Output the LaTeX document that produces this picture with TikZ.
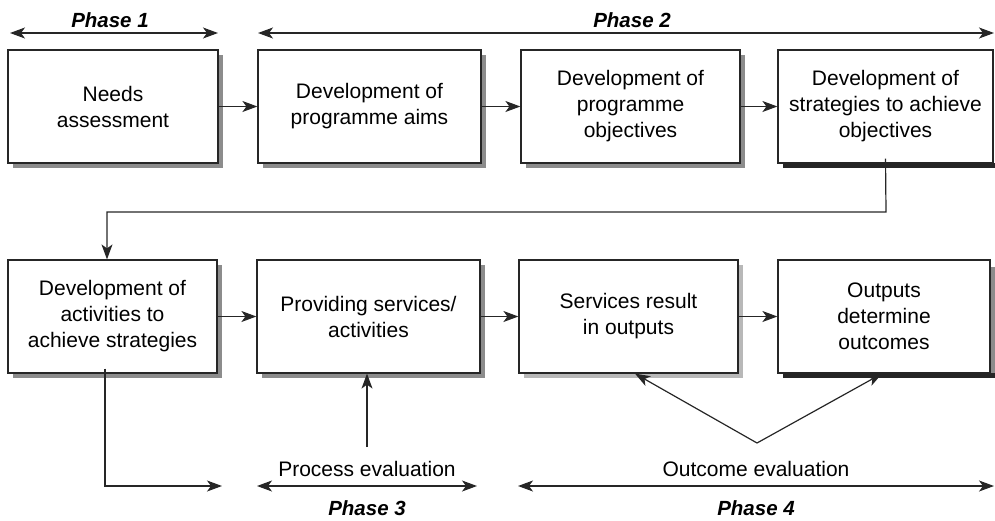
\documentclass[tikz,border=0pt]{standalone}
\usepackage{fontspec}
\setmainfont{Liberation Sans}
\usetikzlibrary{arrows.meta}
\begin{document}
\begin{tikzpicture}[x=1pt,y=-1pt,
  every node/.style={font=\fontsize{21pt}{26pt}\selectfont},
  stagebox/.style={draw=black!85, line width=1.2pt, fill=white, align=center, inner sep=0pt, minimum height=113pt},
  arr/.style={line width=1.2pt, draw=black!85, -{Stealth[length=15pt,width=11pt,inset=4pt]}},
  darr/.style={line width=1.2pt, draw=black!85, {Stealth[length=15pt,width=11pt,inset=4pt]}-{Stealth[length=15pt,width=11pt,inset=4pt]}},
  phase/.style={font=\fontsize{20.5pt}{24pt}\selectfont\bfseries\itshape, anchor=base, inner sep=0pt},
  evl/.style={anchor=base, inner sep=0pt},
  shd/.style={fill=black!45},
  lshd/.style={fill=black!28},
  dshd/.style={fill=black!85}
]
\useasboundingbox (0,0) rectangle (995,520);
% shadows
\fill[shd] (218,55) rectangle (223,168);
\fill[shd] (13,163) rectangle (223,168);
\fill[shd] (481,55) rectangle (486,168);
\fill[shd] (263,163) rectangle (486,168);
\fill[shd] (740,55) rectangle (745,168);
\fill[shd] (526,163) rectangle (745,168);
\fill[dshd] (783,163) rectangle (995,168);
\fill[shd] (217,265) rectangle (222,378);
\fill[shd] (13,373) rectangle (222,378);
\fill[shd] (480,265) rectangle (485,378);
\fill[shd] (262,373) rectangle (485,378);
\fill[lshd] (738,265) rectangle (743,378);
\fill[lshd] (524,373) rectangle (743,378);
\fill[shd] (990,267) rectangle (995,378);
\fill[dshd] (783,373) rectangle (995,378);
% boxes
\node[stagebox, minimum width=210pt] (b1) at (113,106.5) {Needs\\assessment};
\node[stagebox, minimum width=223pt] (b2) at (369.5,106.5) {Development of\\programme aims};
\node[stagebox, minimum width=219pt] (b3) at (630.5,106.5) {Development of\\programme\\objectives};
\node[stagebox, minimum width=215pt] (b4) at (885.5,106.5) {Development of\\strategies to achieve\\objectives};
\node[stagebox, minimum width=209pt] (b5) at (112.5,316.5) {Development of\\activities to\\achieve strategies};
\node[stagebox, minimum width=223pt] (b6) at (368.5,316.5) {Providing services/\\activities};
\node[stagebox, minimum width=219pt] (b7) at (628.5,316.5) {Services result\\in outputs};
\node[stagebox, minimum width=212pt] (b8) at (884,316.5) {Outputs\\determine\\outcomes};
% row arrows
\draw[arr] (b1.east) -- (b2.west);
\draw[arr] (b2.east) -- (b3.west);
\draw[arr] (b3.east) -- (b4.west);
\draw[arr] (b5.east) -- (b6.west);
\draw[arr] (b6.east) -- (b7.west);
\draw[arr] (b7.east) -- (b8.west);
% connector b4 -> b5
\coordinate (c1) at (886,212);
\coordinate (c2) at (107,212);
\draw[arr] ([yshift=5pt]b4.south) -- (c1) -- (c2) -- (c2 |- b5.north);
% b5 bottom connector
\coordinate (c3) at (105,486);
\coordinate (c4) at (222,486);
\draw[arr] ([xshift=-7.5pt,yshift=5pt]b5.south) -- (c3) -- (c4);
% phase labels and arrows
\node[phase] (p1) at (110,27) {Phase 1};
\node[phase] (p2) at (632,27) {Phase 2};
\node[phase] (p3) at (367,515) {Phase 3};
\node[phase] (p4) at (756,515) {Phase 4};
\coordinate (p1l) at (10,33); \coordinate (p1r) at (218,33);
\coordinate (p2l) at (258,33); \coordinate (p2r) at (994,33);
\coordinate (p3l) at (257,486); \coordinate (p3r) at (477,486);
\coordinate (p4l) at (518,486); \coordinate (p4r) at (994,486);
\draw[darr] (p1l) -- (p1r);
\draw[darr] (p2l) -- (p2r);
\draw[darr] (p3l) -- (p3r);
\draw[darr] (p4l) -- (p4r);
% evaluations
\node[evl] (pe) at (367,476) {Process evaluation};
\node[evl] (oe) at (756,476) {Outcome evaluation};
\coordinate (pes) at (367,447);
\draw[arr] (pes) -- (pes |- b6.south);
\coordinate (apex) at (757,443);
\draw[arr] (apex) -- ([xshift=6.5pt]b7.south);
\draw[arr] (apex) -- ([xshift=-2pt]b8.south);
\end{tikzpicture}
\end{document}
